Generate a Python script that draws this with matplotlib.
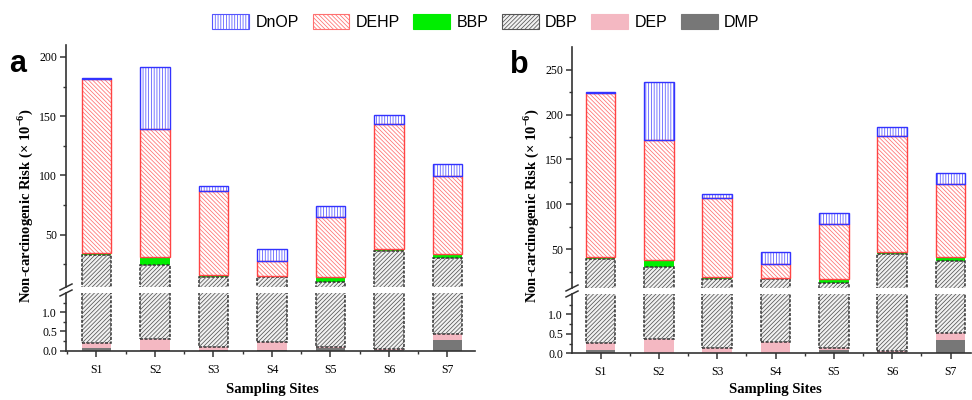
import matplotlib
matplotlib.use("Agg")
import matplotlib.pyplot as plt
from matplotlib.patches import Patch
from matplotlib.lines import Line2D
import numpy as np

plt.rcParams['font.family'] = ['Liberation Serif', 'DejaVu Serif']
plt.rcParams['mathtext.fontset'] = 'custom'
plt.rcParams['mathtext.rm'] = 'Liberation Serif'
plt.rcParams['mathtext.bf'] = 'Liberation Serif:bold'
plt.rcParams['hatch.linewidth'] = 0.55

sites = ['S1', 'S2', 'S3', 'S4', 'S5', 'S6', 'S7']
series = ['DMP', 'DEP', 'DBP', 'BBP', 'DEHP', 'DnOP']

# panel a
a_DMP = [0.06, 0.01, 0.01, 0.01, 0.06, 0.02, 0.27]
a_DEP = [0.14, 0.29, 0.08, 0.22, 0.04, 0.02, 0.16]
a_DBP = [32.8, 24.4, 14.2, 14.1, 10.5, 36.5, 29.6]
a_BBP = [1.5, 7.0, 2.0, 1.3, 3.7, 1.7, 4.2]
a_DEHP = [146.5, 107.5, 70.3, 12.6, 50.3, 105.2, 65.6]
a_DnOP = [1.2, 52.3, 4.9, 9.9, 9.3, 7.3, 9.9]

# panel b
b_DMP = [0.08, 0.01, 0.01, 0.01, 0.08, 0.03, 0.34]
b_DEP = [0.18, 0.36, 0.12, 0.27, 0.05, 0.02, 0.19]
b_DBP = [39.2, 29.5, 16.4, 16.2, 11.9, 44.4, 36.1]
b_BBP = [2.2, 8.5, 2.3, 1.5, 4.5, 2.2, 4.5]
b_DEHP = [182.4, 133.2, 87.7, 16.0, 62.1, 129.9, 81.8]
b_DnOP = [1.5, 64.8, 5.5, 12.6, 11.9, 9.7, 11.9]

# style: (face, hatch, hatchcolor, edgecolor, edge lw, edge ls)
styles = {
    'DMP': ('#777777', None, '#777777', None, 0, '-'),
    'DEP': ('#f4b8c2', None, '#f4b8c2', None, 0, '-'),
    'DBP': ('#f2f2f2', '////////', '#555555', '#333333', 1.1, (0, (2, 1))),
    'BBP': ('#00ee00', None, '#00ee00', None, 0, '-'),
    'DEHP': ('white', '\\\\\\\\\\\\\\\\', '#ff7070', '#ff4444', 1.0, '-'),
    'DnOP': ('white', '||||||', '#5555ff', '#3333ff', 1.0, '-'),
}

W, H = 972, 400
fig = plt.figure(figsize=(9.72, 4.0), dpi=100)

spine_c = '#333333'


def px2fig(x0, x1, ytop, ybot):
    return [x0 / W, 1 - ybot / H, (x1 - x0) / W, (ybot - ytop) / H]


def draw_panel(vals, xl, xr, up_top, up_bot, lo_top, lo_bot, ylim_up, ylim_lo,
               xlim, up_major, up_minor, label, label_xy):
    ax_up = fig.add_axes(px2fig(xl, xr, up_top, up_bot))
    ax_lo = fig.add_axes(px2fig(xl, xr, lo_top, lo_bot))
    x = np.arange(1, len(sites) + 1)
    bottom = np.zeros(len(sites))
    for name in series:
        v = np.array(vals[name])
        face, hatch, hc, ec, lw, ls = styles[name]
        for ax in (ax_up, ax_lo):
            ax.bar(x, v, 0.51, bottom=bottom, color=face, edgecolor=hc,
                   linewidth=0, hatch=hatch, zorder=2)
            if ec is not None:
                ax.bar(x, v, 0.51, bottom=bottom, facecolor='none', edgecolor=ec,
                       linewidth=lw, linestyle=ls, zorder=3)
        bottom = bottom + v

    for ax in (ax_up, ax_lo):
        ax.set_xlim(*xlim)
        ax.spines['top'].set_visible(False)
        ax.spines['right'].set_visible(False)
        for s in ('left', 'bottom'):
            ax.spines[s].set_color(spine_c)
            ax.spines[s].set_linewidth(1.2)
        ax.tick_params(axis='both', which='major', direction='out', length=4.5,
                       width=1.1, color=spine_c, labelsize=8.5, pad=2)
        ax.tick_params(axis='both', which='minor', direction='out', length=2.5,
                       width=1.0, color=spine_c)
        ax.set_facecolor('none')

    ax_up.set_ylim(*ylim_up)
    ax_up.spines['bottom'].set_visible(False)
    ax_up.set_xticks([])
    ax_up.set_yticks(up_major)
    ax_up.set_yticks(up_minor, minor=True)
    ax_up.set_yticklabels([str(t) for t in up_major])

    ax_lo.set_ylim(*ylim_lo)
    ax_lo.set_yticks([0.0, 0.5, 1.0])
    ax_lo.set_yticklabels(['0.0', '0.5', '1.0'])
    ax_lo.set_yticks([0.25, 0.75, 1.25], minor=True)
    ax_lo.set_xticks(x)
    ax_lo.set_xticklabels(sites, fontsize=8.5)
    ax_lo.set_xticks([m for m in np.arange(0.5, 8, 1.0) if xlim[0] <= m <= xlim[1]], minor=True)
    ax_lo.tick_params(axis='x', which='major', pad=5)

    # break marks
    for yy in (up_bot, lo_top):
        fig.add_artist(Line2D([(xl - 6) / W, (xl + 6) / W],
                              [1 - (yy + 3) / H, 1 - (yy - 3) / H],
                              color=spine_c, linewidth=1.1))

    # y label
    fig.text((xl - 41) / W, 1 - 206 / H,
             r'Non-carcinogenic Risk (× 10$^{\mathbf{-6}}$)',
             rotation=90, ha='center', va='center', fontsize=10.5, fontweight='bold')
    # x label
    xc = ax_lo.transData.transform((4, 0))[0]
    fig.text(xc / W, 1 - 389 / H, 'Sampling Sites', ha='center', va='center',
             fontsize=10.5, fontweight='bold')
    # panel letter
    fig.text(label_xy[0] / W, 1 - label_xy[1] / H, label, ha='center', va='baseline',
             fontsize=22, fontweight='bold', family=['Liberation Sans', 'DejaVu Sans'])


vals_a = dict(DMP=a_DMP, DEP=a_DEP, DBP=a_DBP, BBP=a_BBP, DEHP=a_DEHP, DnOP=a_DnOP)
vals_b = dict(DMP=b_DMP, DEP=b_DEP, DBP=b_DBP, BBP=b_BBP, DEHP=b_DEHP, DnOP=b_DnOP)

draw_panel(vals_a, 66, 475, 45, 287, 293, 350.7, (6, 210), (0, 1.5), (0.48, 7.47),
           [50, 100, 150, 200], [25, 75, 125, 175], 'a', (18, 72.5))
draw_panel(vals_b, 572, 971, 47.3, 288, 294, 353.3, (6.8, 275), (0, 1.52), (0.51, 7.35),
           [50, 100, 150, 200, 250], [25, 75, 125, 175, 225], 'b', (519, 73))

# legend
leg_order = ['DnOP', 'DEHP', 'BBP', 'DBP', 'DEP', 'DMP']
handles = []
for name in leg_order:
    face, hatch, hc, ec, lw, ls = styles[name]
    handles.append(Patch(facecolor=face, edgecolor=hc, hatch=hatch, linewidth=0.8))
fig.legend(handles, leg_order, loc='center', bbox_to_anchor=(0.5, 1 - 22 / H), ncol=6,
           frameon=False, prop={'family': 'Liberation Sans', 'size': 11.5},
           handlelength=2.3, handleheight=1.05, columnspacing=0.85, handletextpad=0.4)

fig.savefig('out.png', dpi=100)
